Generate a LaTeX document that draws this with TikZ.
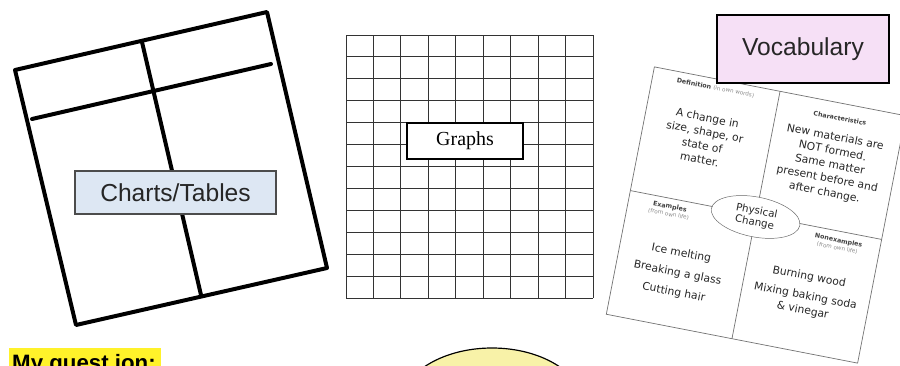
\documentclass[tikz,border=0pt]{standalone}
\usepackage{fontspec}
\setmainfont{Liberation Sans}
\newfontfamily\serifface{Liberation Serif}
\newfontfamily\cardfont{DejaVu Sans}
\usetikzlibrary{shapes.geometric}

\definecolor{chartfill}{RGB}{221,231,243}
\definecolor{vocabfill}{RGB}{246,224,246}
\definecolor{markyellow}{RGB}{255,242,42}
\definecolor{bubblefill}{RGB}{248,242,168}

\def\px{0.03cm}

\begin{document}
\begin{tikzpicture}[
  x=0.03cm, y=-0.03cm,
  frame/.style={line width=3.4pt,line join=round,line cap=round},
  gridline/.style={line width=0.8pt,draw=black!80},
  label/.style={draw,inner sep=0pt,align=center},
  cardline/.style={draw=black!55,line width=0.6pt},
  cardhead/.style={font=\cardfont\fontsize{5.4}{6.4}\selectfont\bfseries,text=black!75,align=center},
  cardbody/.style={font=\cardfont\fontsize{9.2}{12}\selectfont,text=black!85,align=center},
]

\useasboundingbox (0,0) rectangle (900,365);
\clip (0,0) rectangle (900,365);

%--- geometry ----------------------------------------------------------------
\def\gridL{346}        % left side of the graph paper
\def\gridT{35}         % top of the graph paper
\def\cellw{27.44}      % width of one square
\def\cellh{21.92}      % height of one square

%--- left: the chart frame, tilted ------------------------------------------
\draw[frame] (15,70) -- (267,12) -- (327,268) -- (76,325) -- cycle;
\draw[frame] (142,42) -- (201,295);
\draw[frame] (32,119) -- (271,64);

\node[label,draw=black!70,line width=1pt,fill=chartfill,
  minimum width=201*\px,minimum height=43*\px,
  font=\fontsize{21}{24}\selectfont,text=black!85] (charts) at (175.5,192.5) {Charts/Tables};

%--- middle: the graph paper -------------------------------------------------
\foreach \i in {0,...,9}
  \draw[gridline] ({\gridL+\i*\cellw},\gridT) -- ({\gridL+\i*\cellw},{\gridT+12*\cellh});
\foreach \j in {0,...,12}
  \draw[gridline] (\gridL,{\gridT+\j*\cellh}) -- ({\gridL+9*\cellw},{\gridT+\j*\cellh});

\node[label,line width=1pt,fill=white,
  minimum width=116*\px,minimum height=36*\px,
  font=\serifface\fontsize{17}{20}\selectfont] (graphs) at (465,141) {Graphs};

%--- right: the vocabulary card, turned clockwise ----------------------------
\begin{scope}[shift={(756,215)},rotate=-11,transform shape]
  \fill[white] (-128,-126) rectangle (128,126);
  \draw[cardline] (-128,-126) rectangle (128,126);
  \draw[cardline] (0,-126) -- (0,126);
  \draw[cardline] (-128,0) -- (128,0);

  \node[ellipse,draw=black!60,fill=white,inner sep=0pt,
    minimum width=90*\px,minimum height=40*\px,
    cardbody,font=\cardfont\fontsize{8.8}{10}\selectfont] (phys) at (0,2) {Physical\\Change};

  \node[cardhead] (defhead) at (-64,-117) {Definition {\mdseries\color{black!45}\fontsize{4.8}{5.6}\selectfont(in own words)}};
  \node[cardbody] (deftext) at (-66,-65) {A change in\\size, shape, or\\state of\\matter.};

  \node[cardhead] (charhead) at (64,-111) {Characteristics};
  \node[cardbody] (chartext) at (63,-63) {New materials are\\NOT formed.\\Same matter\\present before and\\after change.};

  \node[cardhead] (exhead) at (-86,12) {Examples\\{\mdseries\color{black!45}\fontsize{4.8}{5.6}\selectfont(from own life)}};
  \node[cardbody,font=\cardfont\fontsize{9.2}{17}\selectfont] (extext) at (-66,72) {Ice melting\\Breaking a glass\\Cutting hair};

  \node[cardhead] (nonhead) at (86,13) {Nonexamples\\{\mdseries\color{black!45}\fontsize{4.8}{5.6}\selectfont(from own life)}};
  \node[cardbody,font=\cardfont\fontsize{9.2}{12.5}\selectfont] (nontext) at (64,68) {Burning wood\\[4pt]Mixing baking soda\\\& vinegar};
\end{scope}

\node[label,line width=1.6pt,fill=vocabfill,
  minimum width=172*\px,minimum height=68*\px,
  font=\fontsize{21}{24}\selectfont,text=black!85] (vocab) at (803,49) {Vocabulary};

%--- bottom: the question and the bubble ------------------------------------
\fill[markyellow] (9,348) rectangle (161,372);
\node[anchor=base west,inner sep=0pt,font=\fontsize{19}{22}\selectfont\bfseries] (question) at (12,370) {My quest ion:};

\draw[line width=1pt,fill=bubblefill] (492,408) ellipse [x radius=93,y radius=60];

\end{tikzpicture}
\end{document}
